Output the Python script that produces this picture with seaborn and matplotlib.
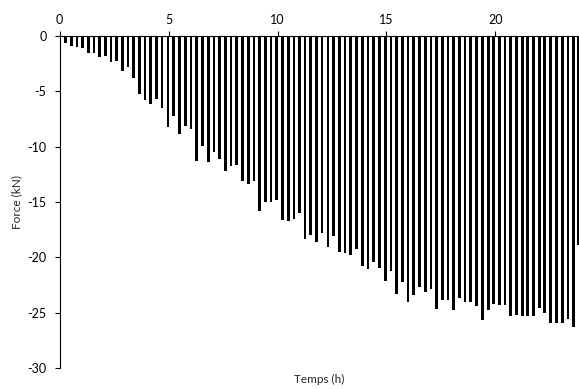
import pandas as pd
import seaborn as sns
import matplotlib.pyplot as plt

# time of each load step (h)
temps = [0.00, 0.27, 0.53, 0.79, 1.06, 1.31, 1.58, 1.84, 2.09, 2.36,
         2.62, 2.87, 3.14, 3.40, 3.66, 3.92, 4.18, 4.44, 4.70, 4.97,
         5.23, 5.50, 5.77, 6.03, 6.29, 6.55, 6.82, 7.09, 7.35, 7.60,
         7.87, 8.13, 8.39, 8.66, 8.92, 9.18, 9.44, 9.70, 9.96, 10.23,
         10.49, 10.75, 11.00, 11.26, 11.52, 11.78, 12.04, 12.32, 12.58, 12.84,
         13.10, 13.36, 13.63, 13.89, 14.16, 14.42, 14.68, 14.95, 15.21, 15.47,
         15.73, 15.99, 16.25, 16.51, 16.78, 17.05, 17.31, 17.57, 17.83, 18.09,
         18.35, 18.61, 18.87, 19.14, 19.40, 19.67, 19.93, 20.18, 20.45, 20.71,
         20.97, 21.24, 21.49, 21.75, 22.02, 22.27, 22.54, 22.81, 23.07, 23.33,
         23.59, 23.81]

# force (kN)
force = [-0.30, -0.65, -0.88, -1.02, -1.07, -1.58, -1.53, -1.94, -1.82, -2.35,
         -2.23, -3.12, -2.80, -3.80, -5.24, -5.79, -6.14, -5.73, -6.53, -8.18,
         -7.22, -8.82, -8.12, -8.42, -11.28, -9.92, -11.37, -10.44, -11.13, -12.18,
         -11.75, -11.64, -13.12, -13.36, -13.06, -15.80, -15.00, -15.00, -14.86, -16.64,
         -16.76, -16.51, -16.00, -18.32, -17.96, -18.62, -17.80, -19.07, -18.05, -19.53,
         -19.61, -19.77, -19.26, -20.82, -21.03, -20.45, -20.97, -22.17, -21.27, -23.29,
         -22.20, -24.02, -23.40, -22.65, -23.14, -22.83, -24.65, -23.83, -23.83, -24.80,
         -23.72, -24.00, -24.07, -24.37, -25.63, -24.78, -24.19, -24.35, -24.35, -25.33,
         -25.18, -25.33, -25.33, -25.33, -24.58, -25.00, -25.93, -25.93, -25.93, -25.55,
         -26.27, -18.90]

x_ticks = [0, 5, 10, 15, 20]
y_ticks = [0, -5, -10, -15, -20, -25, -30]

sns.set_style("white")
plt.rcParams["font.family"] = ["Lato", "DejaVu Sans"]

df = pd.DataFrame({"Temps": temps, "Force": force})

fig = plt.figure(figsize=(5.79, 3.89), dpi=100)
ax = fig.add_axes([0.1031, 0.054, 0.8969, 0.8535])

sns.barplot(data=df, x="Temps", y="Force", native_scale=True, color="black",
            saturation=1, errorbar=None, width=0.56, linewidth=0, ax=ax)

ax.set_xlim(0, 23.84)
ax.set_ylim(-30, 0)
ax.xaxis.tick_top()
ax.xaxis.set_label_position("bottom")
ax.set_xticks(x_ticks)
ax.set_xticklabels([str(t) for t in x_ticks])
ax.set_yticks(y_ticks)
ax.set_yticklabels([str(t) for t in y_ticks])
ax.tick_params(axis="both", direction="out", length=3.5, width=0.8,
               labelsize=9, colors="black")
ax.tick_params(axis="x", top=True, bottom=False, pad=4)
ax.tick_params(axis="y", left=True, pad=6)

for side in ["bottom", "right"]:
    ax.spines[side].set_visible(False)
for side in ["top", "left"]:
    ax.spines[side].set_color("black")
    ax.spines[side].set_linewidth(0.8)

ax.set_xlabel("Temps (h)", fontsize=8.5, labelpad=4)
ax.set_ylabel("Force (kN)", fontsize=8.5, labelpad=4)

fig.savefig("out.png", dpi=100)
